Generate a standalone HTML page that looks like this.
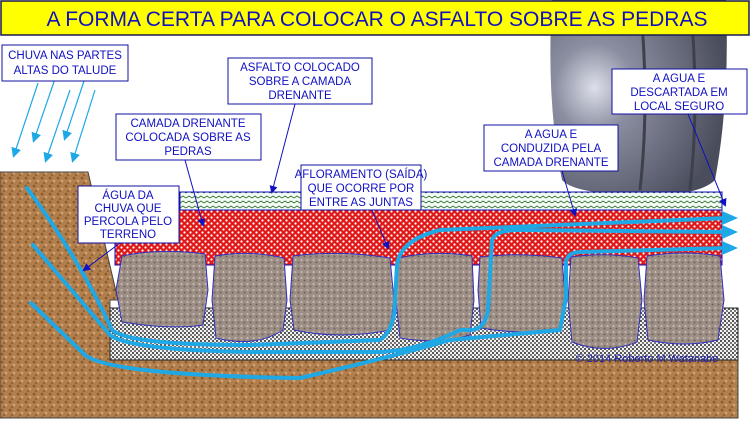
<!DOCTYPE html>
<html><head><meta charset="utf-8"><style>
html,body{margin:0;padding:0;background:#fff;}
svg{display:block;}
.t{font-family:"Liberation Sans",Arial,sans-serif;font-size:11.5px;fill:#1010c0;text-anchor:middle;}
</style></head><body>
<svg width="752" height="423" viewBox="0 0 752 423" xmlns="http://www.w3.org/2000/svg">
<defs>
<pattern id="soil" width="8" height="8" patternUnits="userSpaceOnUse">
<rect width="8" height="8" fill="#b27f4c"/><circle cx="2" cy="2" r="1.3" fill="#85582e"/><circle cx="6" cy="5" r="1.3" fill="#d2a376"/><circle cx="4" cy="7" r="0.9" fill="#74502c"/></pattern>
<pattern id="dots" width="4" height="4" patternUnits="userSpaceOnUse">
<rect width="4" height="4" fill="#f2f2f2"/><rect width="2" height="2" fill="#555"/><rect x="2" y="2" width="2" height="2" fill="#777"/></pattern>
<pattern id="red" width="6" height="6" patternUnits="userSpaceOnUse">
<rect width="6" height="6" fill="#e01818"/><circle cx="1.5" cy="1.5" r="1.1" fill="#fff"/><circle cx="4.5" cy="4.5" r="1.1" fill="#fff"/></pattern>
<pattern id="zig" width="6" height="5" patternUnits="userSpaceOnUse">
<rect width="6" height="5" fill="#f4fbf4"/><path d="M0 3 L3 1 L6 3" stroke="#2a6a2a" stroke-width="0.8" fill="none"/></pattern>
<pattern id="stone" width="6" height="6" patternUnits="userSpaceOnUse">
<rect width="6" height="6" fill="#9d8f86"/><circle cx="1.5" cy="2" r="1" fill="#c9beb6"/><circle cx="4.5" cy="4.5" r="1" fill="#6e625b"/></pattern>
<radialGradient id="tireg" cx="0.25" cy="0.45" r="0.75"><stop offset="0" stop-color="#dde0ea"/><stop offset="0.3" stop-color="#8a8ea0"/><stop offset="1" stop-color="#4a4d5c"/></radialGradient>
<marker id="ab" markerWidth="8" markerHeight="8" refX="6" refY="4" orient="auto" markerUnits="userSpaceOnUse"><path d="M0 0 L8 4 L0 8 Z" fill="#1010c0"/></marker>
<marker id="ac" markerWidth="10" markerHeight="10" refX="7" refY="5" orient="auto" markerUnits="userSpaceOnUse"><path d="M0 0 L10 5 L0 10 Z" fill="#1ea8e6"/></marker>
</defs>
<!-- tire -->
<path d="M552 0 L726 0 Q730 100 715 180 Q700 195 650 195 Q575 195 562 180 Q546 100 552 0 Z" fill="url(#tireg)"/>
<path d="M640 0 Q650 100 640 190" stroke="#3e404c" stroke-width="3" fill="none"/>
<path d="M690 0 Q700 100 690 190" stroke="#3e404c" stroke-width="3" fill="none"/>
<!-- title -->
<rect x="1" y="1" width="748" height="34" fill="#ffff00" stroke="#1a1a50" stroke-width="1.5"/>
<text x="377" y="26" style="font-family:'Liberation Sans',Arial,sans-serif;font-size:21px;fill:#1010c0;text-anchor:middle;">A FORMA CERTA PARA COLOCAR O ASFALTO SOBRE AS PEDRAS</text>
<!-- soil -->
<path d="M0 172 L88 172 L118 300 L110 300 L110 360 L738 360 L738 418 L0 418 Z" fill="url(#soil)" stroke="#444" stroke-width="1"/>
<!-- gravel -->
<rect x="110" y="308" width="628" height="52" fill="url(#dots)" stroke="#222" stroke-width="1"/>
<!-- red -->
<rect x="115" y="210" width="607" height="55" fill="url(#red)" stroke="#1010c0" stroke-width="1"/>
<!-- green -->
<rect x="180" y="192" width="542" height="18" fill="url(#zig)" stroke="#1010c0" stroke-width="1"/>
<!-- stones -->
<g fill="url(#stone)" stroke="#3030c0" stroke-width="1">
<path d="M122 256 Q160 248 205 254 L208 290 L203 325 Q170 330 122 322 L116 290 Z"/>
<path d="M215 256 Q250 250 284 258 L287 300 L283 330 Q255 348 216 338 L212 300 Z"/>
<path d="M293 256 Q340 250 390 258 L394 300 L390 330 Q340 340 294 330 L290 300 Z"/>
<path d="M398 258 Q435 250 472 256 L474 300 L470 335 Q440 345 400 338 L396 300 Z"/>
<path d="M480 257 Q520 252 562 258 L565 295 L560 330 Q520 335 481 328 L478 290 Z"/>
<path d="M571 257 Q605 252 638 258 L642 300 L637 342 Q605 355 572 342 L568 300 Z"/>
<path d="M647 256 Q685 250 720 256 L724 300 L718 340 Q685 348 648 340 L644 300 Z"/>
</g>
<!-- water lines -->
<g stroke="#1ea8e6" stroke-width="4" fill="none" stroke-linecap="round" stroke-linejoin="round">
<path d="M27 188 Q80 260 112 330 Q130 345 250 345 L380 340 Q395 330 395 300 L397 265 Q400 240 440 230 L726 218"/>
<path d="M33 245 Q80 300 110 335 Q130 350 250 352 L380 352 Q420 350 460 330 L470 330 Q485 330 488 310 L492 240 Q495 230 520 230 L726 232"/>
<path d="M31 303 L85 355 Q110 375 300 378 Q380 360 450 340 L560 330 L566 298 L566 262 Q568 252 580 252 L726 248"/>
</g>
<g fill="#1ea8e6">
<path d="M722 211 L738 218 L722 225 Z"/>
<path d="M722 225 L738 232 L722 239 Z"/>
<path d="M722 241 L738 248 L722 255 Z"/>
</g>
<!-- rain -->
<g stroke="#1ea8e6" stroke-width="1.2" marker-end="url(#ac)">
<line x1="38" y1="83" x2="14" y2="155"/>
<line x1="58" y1="70" x2="34" y2="140"/>
<line x1="70" y1="90" x2="46" y2="160"/>
<line x1="87" y1="72" x2="65" y2="138"/>
<line x1="95" y1="90" x2="73" y2="160"/>
</g>
<!-- label connectors -->
<g stroke="#1010c0" stroke-width="1" marker-end="url(#ab)">
<line x1="295" y1="104" x2="272" y2="192"/>
<line x1="185" y1="160" x2="203" y2="225"/>
<line x1="120" y1="243" x2="84" y2="270"/>
<line x1="372" y1="210" x2="388" y2="248"/>
<line x1="562" y1="171" x2="575" y2="215"/>
<line x1="688" y1="114" x2="725" y2="205"/>
</g>
<!-- labels -->
<g fill="#fff" stroke="#1010a0" stroke-width="1">
<rect x="2" y="45" width="126" height="36"/>
<rect x="228" y="58" width="144" height="46"/>
<rect x="116" y="114" width="145" height="46"/>
<rect x="301" y="165" width="120" height="45"/>
<rect x="78" y="186" width="101" height="57"/>
<rect x="484" y="125" width="134" height="46"/>
<rect x="612" y="69" width="135" height="45"/>
</g>
<g class="t">
<text x="65" y="59">CHUVA NAS PARTES</text><text x="65" y="74">ALTAS DO TALUDE</text>
<text x="300" y="71">ASFALTO COLOCADO</text><text x="300" y="85">SOBRE A CAMADA</text><text x="300" y="99">DRENANTE</text>
<text x="188" y="127">CAMADA DRENANTE</text><text x="188" y="141">COLOCADA SOBRE AS</text><text x="188" y="155">PEDRAS</text>
<text x="361" y="178">AFLORAMENTO (SAÍDA)</text><text x="361" y="192">QUE OCORRE POR</text><text x="361" y="206">ENTRE AS JUNTAS</text>
<text x="128" y="199">ÁGUA DA</text><text x="128" y="212">CHUVA QUE</text><text x="128" y="225">PERCOLA PELO</text><text x="128" y="238">TERRENO</text>
<text x="551" y="138">A AGUA E</text><text x="551" y="152">CONDUZIDA PELA</text><text x="551" y="166">CAMADA DRENANTE</text>
<text x="679" y="82">A AGUA E</text><text x="679" y="96">DESCARTADA EM</text><text x="679" y="110">LOCAL SEGURO</text>
</g>
<text x="647" y="362" style="font-family:'Liberation Sans',Arial,sans-serif;font-size:11px;fill:#2020b0;text-anchor:middle;">© 2014 Roberto M Watanabe</text>
</svg>
</body></html>
